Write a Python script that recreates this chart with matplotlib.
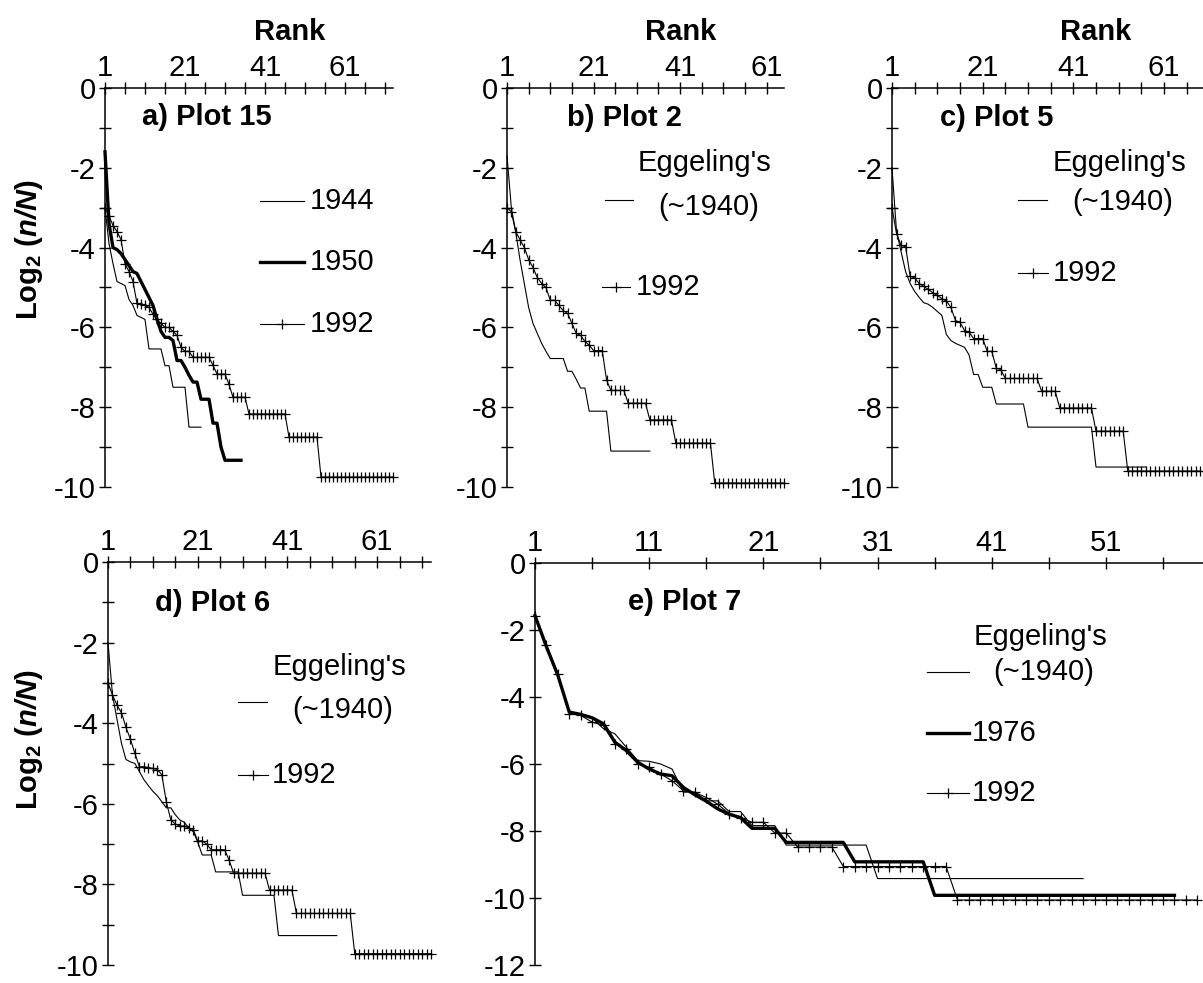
import numpy as np
import matplotlib
matplotlib.use("Agg")
import matplotlib.pyplot as plt
from matplotlib.lines import Line2D

W, H = 1203, 983
plt.rcParams["font.family"] = ["Liberation Sans", "DejaVu Sans"]
plt.rcParams["axes.unicode_minus"] = False
plt.rcParams["mathtext.fontset"] = "custom"
plt.rcParams["mathtext.rm"] = "Liberation Sans"
plt.rcParams["mathtext.it"] = "Liberation Sans:italic"
plt.rcParams["mathtext.bf"] = "Liberation Sans:bold"
plt.rcParams["mathtext.bfit"] = "Liberation Sans:italic:bold"

# log2(n/N) by rank
a_1944 = [-3.0, -3.9, -4.4, -4.85, -4.9, -4.95, -5.3, -5.45, -5.7, -5.75, -5.8,
          -6.54, -6.54, -6.54, -6.54, -6.96, -6.96, -7.5, -7.5, -7.5, -7.5,
          -8.5, -8.5, -8.5, -8.5]
a_1950 = [-1.6, -3.4, -4.0, -4.05, -4.15, -4.3, -4.45, -4.6, -4.65, -4.85, -5.05,
          -5.25, -5.45, -5.8, -6.1, -6.25, -6.25, -6.33, -6.83, -6.83, -7.0, -7.2,
          -7.37, -7.37, -7.8, -7.8, -7.8, -8.4, -8.4, -9.0,
          -9.33, -9.33, -9.33, -9.33, -9.33]
a_1992 = ([-3.0, -3.2, -3.45, -3.6, -3.8, -4.4, -4.6, -4.85, -5.4, -5.42, -5.45,
           -5.5, -5.67, -5.8, -5.9, -6.0, -6.0, -6.1, -6.2, -6.5, -6.6, -6.6,
           -6.75, -6.75, -6.75, -6.75, -6.75, -6.95, -7.17, -7.17, -7.17, -7.43,
           -7.75, -7.75, -7.75, -7.75]
          + [-8.17] * 10 + [-8.75] * 8 + [-9.75] * 19)

b_1940 = ([-1.7, -3.0, -3.6, -4.3, -4.9, -5.5, -5.9, -6.15, -6.4, -6.6, -6.78,
           -6.78, -6.78, -6.78, -7.1, -7.1, -7.3, -7.52, -7.52]
          + [-8.1] * 5 + [-9.1] * 10)
b_1992 = ([-3.0, -3.1, -3.6, -3.8, -4.0, -4.3, -4.5, -4.75, -4.9, -5.0, -5.32,
           -5.32, -5.45, -5.58, -5.65, -5.9, -6.15, -6.2, -6.35, -6.45, -6.58,
           -6.58, -6.58, -7.32]
          + [-7.58] * 4 + [-7.9] * 5 + [-8.32] * 6 + [-8.9] * 9 + [-9.9] * 17)

c_1940 = ([-2.0, -3.6, -4.1, -4.6, -4.9, -5.1, -5.25, -5.38, -5.42, -5.5, -5.6,
           -5.7, -6.18, -6.33, -6.4, -6.45, -6.5, -6.69, -7.18, -7.18, -7.5, -7.5,
           -7.5]
          + [-7.92] * 7 + [-8.5] * 15 + [-9.5] * 12)
c_1992 = ([-3.0, -3.65, -3.94, -3.98, -4.72, -4.76, -4.9, -4.97, -5.05, -5.13,
           -5.2, -5.28, -5.34, -5.5, -5.83, -5.87, -6.08, -6.12, -6.28, -6.28,
           -6.28, -6.6, -6.6, -7.02, -7.06]
          + [-7.28] * 8 + [-7.6] * 4 + [-8.02] * 8 + [-8.6] * 7 + [-9.6] * 17)

d_1940 = ([-2.0, -3.3, -3.9, -4.5, -4.9, -4.96, -5.0, -5.2, -5.4, -5.55, -5.69,
           -5.8, -5.95, -6.1, -6.1, -6.27, -6.4, -6.46, -6.6, -6.69, -6.95,
           -7.27, -7.27, -7.27]
          + [-7.69] * 6 + [-8.27] * 8 + [-9.27] * 14)
d_1992 = ([-3.0, -3.3, -3.55, -3.74, -4.1, -4.4, -4.75, -5.08, -5.08, -5.1,
           -5.12, -5.15, -5.28, -5.95, -6.4, -6.5, -6.55, -6.55, -6.6, -6.64,
           -6.92, -6.92, -7.0, -7.14, -7.14, -7.14, -7.14, -7.4]
          + [-7.72] * 8 + [-8.14] * 6 + [-8.72] * 13 + [-9.72] * 18)

e_1940 = ([-1.57, -2.5, -3.35, -4.45, -4.5, -4.62, -4.95, -5.1, -5.5, -5.9,
           -5.92, -6.0, -6.15, -6.84, -6.84, -7.1, -7.1, -7.42, -7.42, -7.84,
           -7.84, -7.84]
          + [-8.42] * 8 + [-9.42] * 19)
e_1976 = ([-1.57, -2.5, -3.35, -4.45, -4.52, -4.62, -4.8, -5.35, -5.6, -5.95,
           -6.15, -6.3, -6.35, -6.7, -6.92, -7.11, -7.34, -7.5, -7.6, -7.92,
           -7.92, -7.92]
          + [-8.34] * 6 + [-8.92] * 7 + [-9.92] * 22)
e_1992 = ([-1.57, -2.45, -3.3, -4.5, -4.55, -4.75, -4.85, -5.4, -5.55, -6.0,
           -6.1, -6.3, -6.5, -6.8, -6.85, -7.0, -7.2, -7.48, -7.6, -7.74, -7.74,
           -8.06, -8.06]
          + [-8.48] * 4 + [-9.06] * 10 + [-10.06] * 22)

FS = 21


def px(x, y):
    return x / W, 1 - y / H


def box(left, top, right, bottom):
    return [left / W, 1 - bottom / H, (right - left) / W, (bottom - top) / H]


def ranks(v):
    return np.arange(1, len(v) + 1)


def thin(ax, v):
    ax.plot(ranks(v), v, color="black", lw=0.8, clip_on=False)


def thick(ax, v):
    ax.plot(ranks(v), v, color="black", lw=2.4, clip_on=False)


def marked(ax, v):
    ax.plot(ranks(v), v, color="black", lw=0.8, marker="+", ms=7, mew=0.9,
            clip_on=False)


def style(ax, xmax, xlast, label_step, ymin, yminor=True):
    ax.set_xlim(1, xmax)
    ax.set_ylim(ymin, 0)
    for s in ("bottom", "right"):
        ax.spines[s].set_visible(False)
    for s in ("top", "left"):
        ax.spines[s].set_linewidth(1.1)
    ax.xaxis.set_ticks_position("top")
    ax.set_xticks(np.arange(1, xlast + 1, label_step))
    ax.set_xticks(np.arange(1, xlast + 1, 5), minor=True)
    ax.set_yticks(np.arange(ymin, 1, 2))
    if yminor:
        ax.set_yticks(np.arange(ymin, 1, 1), minor=True)
    ax.tick_params(which="both", direction="inout", length=9, width=1)
    ax.tick_params(axis="x", labelsize=FS, pad=0)
    ax.tick_params(axis="y", labelsize=FS, pad=2)
    ax.patch.set_visible(False)


def key(x0, x1, y, lw=0.8, mark=False):
    fig.add_artist(Line2D([x0 / W, x1 / W], [1 - y / H, 1 - y / H],
                          color="black", lw=lw))
    if mark:
        fig.add_artist(Line2D([(x0 + x1) / 2 / W], [1 - y / H], color="black",
                              marker="+", ms=7, mew=0.9, lw=0))


def label(x, y, s, bold=False, ha="left", **kw):
    fig.text(*px(x, y), s, fontsize=FS, ha=ha, va="center",
             fontweight="bold" if bold else "normal", **kw)


fig = plt.figure(figsize=(W / 100, H / 100), dpi=100)

ax_a = fig.add_axes(box(105, 88, 393, 487))
thin(ax_a, a_1944)
thick(ax_a, a_1950)
marked(ax_a, a_1992)
style(ax_a, 73, 71, 20, -10)

ax_b = fig.add_axes(box(507, 88, 784, 487))
thin(ax_b, b_1940)
marked(ax_b, b_1992)
style(ax_b, 65, 61, 20, -10)

ax_c = fig.add_axes(box(892, 88, 1203, 487))
thin(ax_c, c_1940)
marked(ax_c, c_1992)
style(ax_c, 69.6, 66, 20, -10)

ax_d = fig.add_axes(box(108, 562, 431, 965))
thin(ax_d, d_1940)
marked(ax_d, d_1992)
style(ax_d, 73, 71, 20, -10)

ax_e = fig.add_axes(box(535, 563, 1203, 965))
thin(ax_e, e_1940)
thick(ax_e, e_1976)
marked(ax_e, e_1992)
style(ax_e, 59.5, 56, 10, -12, yminor=False)

# axis titles
for x in (290, 681, 1096):
    label(x, 32, "Rank", bold=True, ha="center")
ylab = r"Log$_{\mathregular{2}}$ ($\mathbfit{n/N}$)"
label(29, 250, ylab, bold=True, ha="center", rotation=90)
label(29, 740, ylab, bold=True, ha="center", rotation=90)

# panel titles
label(142, 117, "a) Plot 15", bold=True)
label(567, 118, "b) Plot 2", bold=True)
label(940, 118, "c) Plot 5", bold=True)
label(155, 603, "d) Plot 6", bold=True)
label(628, 602, "e) Plot 7", bold=True)

# legends
key(260, 304, 201)
label(310, 201, "1944")
key(260, 304, 262, lw=2.4)
label(310, 262, "1950")
key(260, 304, 324, mark=True)
label(310, 324, "1992")

label(638, 163, "Eggeling's")
label(658, 207, "(~1940)")
key(605, 633, 200)
key(602, 630, 287, mark=True)
label(636, 287, "1992")

label(1053, 163, "Eggeling's")
label(1072, 202, "(~1940)")
key(1018, 1047, 200)
key(1018, 1048, 273, mark=True)
label(1053, 273, "1992")

label(273, 667, "Eggeling's")
label(292, 710, "(~1940)")
key(238, 267, 702)
key(238, 268, 775, mark=True)
label(272, 775, "1992")

label(974, 637, "Eggeling's")
label(993, 672, "(~1940)")
key(927, 969, 672)
key(927, 969, 733, lw=2.4)
label(972, 733, "1976")
key(927, 969, 793, mark=True)
label(972, 793, "1992")

fig.savefig("out.png", dpi=100)
